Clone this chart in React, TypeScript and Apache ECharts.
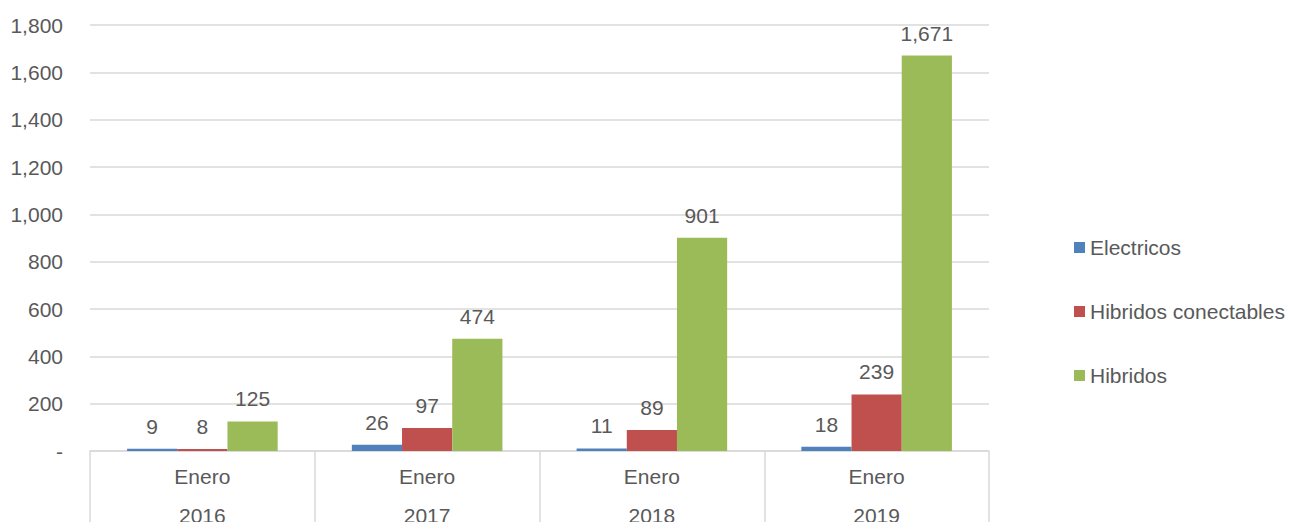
import React, { useEffect, useRef } from "react";
import * as echarts from "echarts";

const categories = ["Enero\n2016", "Enero\n2017", "Enero\n2018", "Enero\n2019"];
const electricos = [9, 26, 11, 18];
const hibridosConectables = [8, 97, 89, 239];
const hibridos = [125, 474, 901, 1671];
const seriesNames = ["Electricos", "Hibridos conectables", "Hibridos"];
const colors = ["#4f81bd", "#c0504d", "#9bbb59"];

const FONT = "'Liberation Sans', Arial, sans-serif";
const TEXT = "#595959";
const FS = 21;

export default function App() {
  const ref = useRef<HTMLDivElement>(null);
  useEffect(() => {
    if (!ref.current) return;
    const chart = echarts.init(ref.current, undefined, { renderer: "svg" });
    const label = {
      show: true,
      position: "top",
      distance: 12,
      color: TEXT,
      fontSize: FS,
      fontFamily: FONT,
      formatter: (p: any) => Number(p.value).toLocaleString("en-US"),
    };
    const data = [electricos, hibridosConectables, hibridos];
    chart.setOption({
      animation: false,
      textStyle: { fontFamily: FONT },
      grid: {
        left: 90,
        right: 314,
        top: 25,
        bottom: 71,
        containLabel: false,
        outerBoundsMode: "none",
      },
      legend: {
        orient: "vertical",
        left: 1074,
        top: 237,
        padding: 0,
        itemWidth: 11,
        itemHeight: 11,
        itemGap: 43,
        icon: "rect",
        textStyle: { color: TEXT, fontSize: FS, fontFamily: FONT },
        data: seriesNames,
      },
      xAxis: {
        type: "category",
        data: categories,
        axisLine: { show: true, lineStyle: { color: "#d9d9d9", width: 1.5 } },
        axisTick: { show: true, interval: 0, length: 75, lineStyle: { color: "#d9d9d9", width: 1.5 } },
        axisLabel: {
          color: TEXT,
          fontSize: FS,
          fontFamily: FONT,
          lineHeight: 39,
          margin: 6,
          interval: 0,
        },
      },
      yAxis: {
        type: "value",
        min: 0,
        max: 1800,
        interval: 200,
        axisLine: { show: false },
        axisTick: { show: false },
        splitLine: { lineStyle: { color: "#d9d9d9", width: 1.5 } },
        axisLabel: {
          color: TEXT,
          fontSize: FS,
          fontFamily: FONT,
          margin: 27,
          formatter: (v: number) => (v === 0 ? "-" : v.toLocaleString("en-US")),
        },
      },
      series: seriesNames.map((name, i) => ({
        name,
        type: "bar",
        data: data[i],
        barGap: "0%",
        barCategoryGap: "33%",
        itemStyle: { color: colors[i] },
        label,
      })),
    });
    return () => chart.dispose();
  }, []);
  return (
    <div
      ref={ref}
      style={{ position: "fixed", left: 0, top: 0, width: 1303, height: 522, background: "#fff" }}
    />
  );
}
